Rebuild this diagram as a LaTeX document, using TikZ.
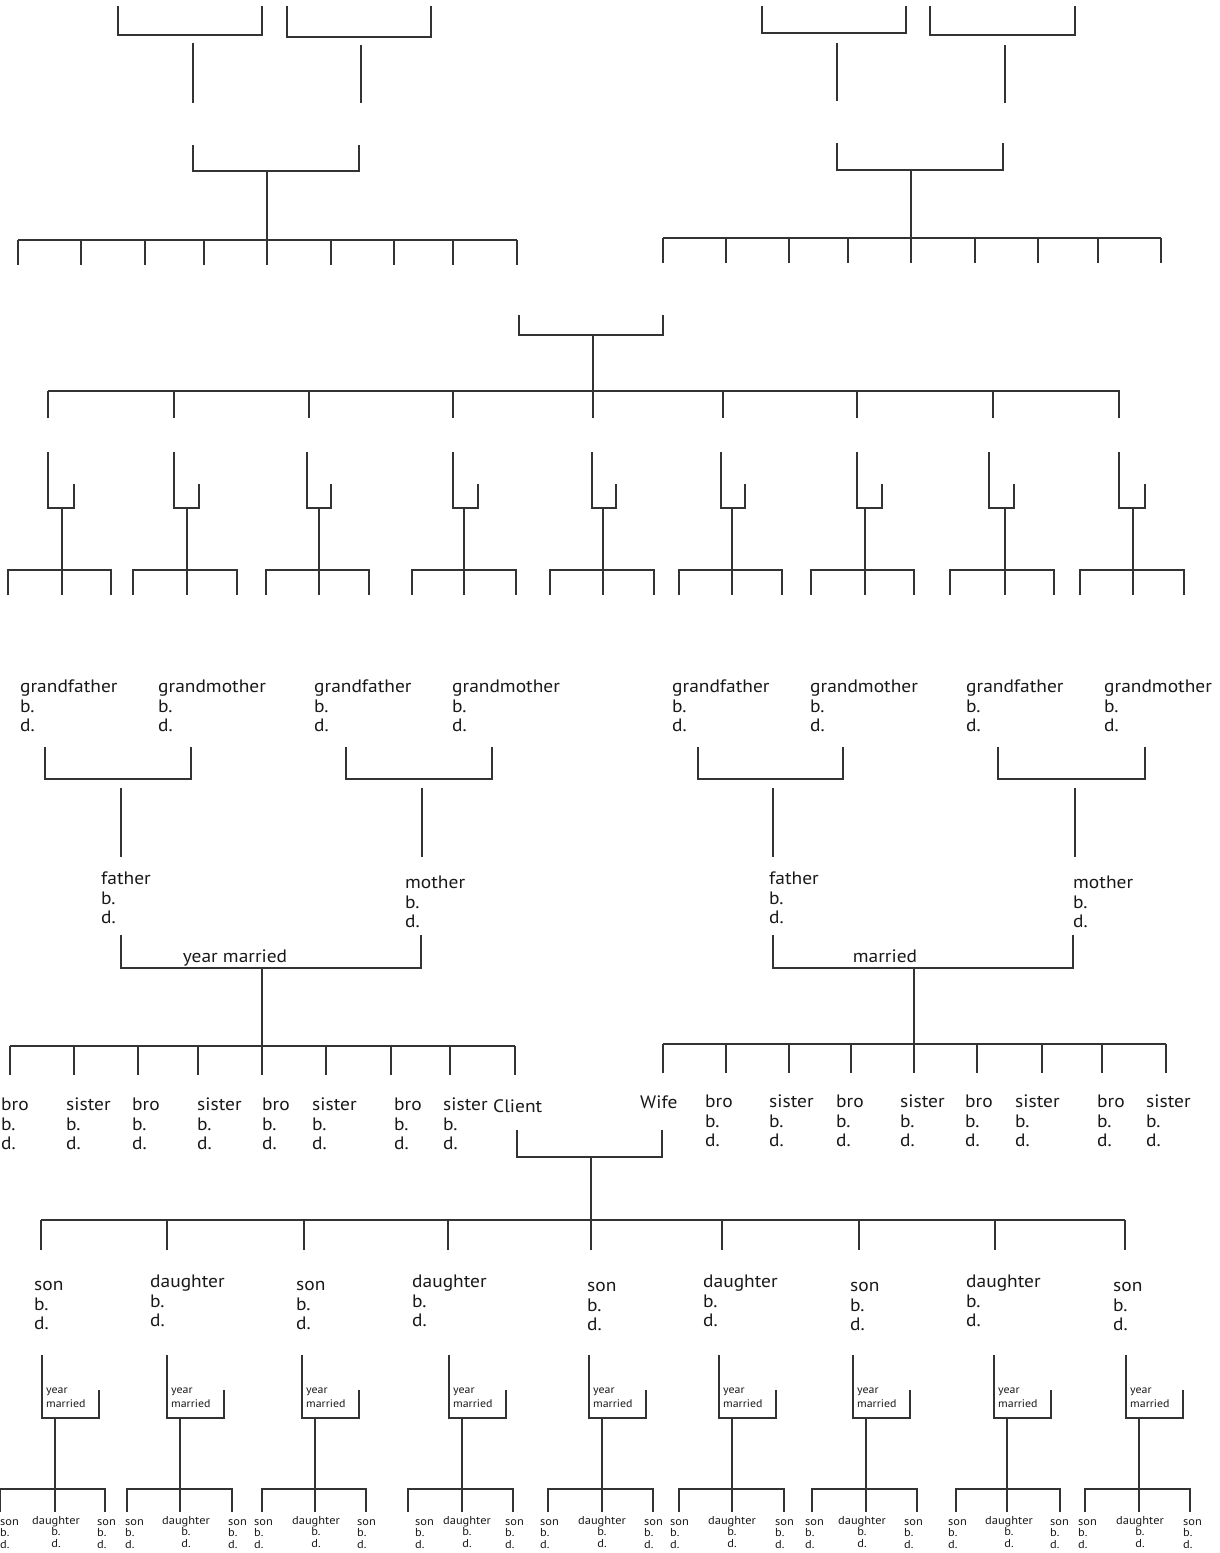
\documentclass[tikz,border=0pt]{standalone}
\usepackage{fontspec}
\setmainfont{PT Sans}[FakeStretch=1.08]
\begin{document}
\begin{tikzpicture}[x=1pt,y=-1pt,
  ln/.style={line width=1.5pt, draw=black!80},
  lab/.style={anchor=north west, inner sep=0pt, align=left, font=\fontsize{18}{19.5}\selectfont, text=black!90},
  one/.style={inner sep=0pt, font=\fontsize{18}{19.5}\selectfont, text=black!90},
  tiny/.style={anchor=north west, inner sep=0pt, align=left, font=\fontsize{11}{14}\selectfont, text=black!90},
  gc/.style={anchor=north west, inner sep=0pt, align=left, font=\fontsize{11.5}{11.5}\selectfont, text=black!90},
  gcc/.style={anchor=north west, inner sep=0pt, align=center, font=\fontsize{11.5}{11.5}\selectfont, text=black!90}]
\useasboundingbox (0,0) rectangle (1220,1553);

% ---------- top left ----------
\draw[ln] (118,6) -- (118,35) -- (262,35) -- (262,6);
\draw[ln] (287,6) -- (287,37) -- (431,37) -- (431,6);
\draw[ln] (193,43) -- (193,103);
\draw[ln] (361,45) -- (361,103);
\draw[ln] (193,145) -- (193,171) -- (359,171) -- (359,145);
\draw[ln] (267,171) -- (267,240);
\draw[ln] (18,240) -- (517,240);
\foreach \x in {18,81,145,204,267,331,394,453,517} \draw[ln] (\x,240) -- (\x,265);

% ---------- top right ----------
\draw[ln] (762,6) -- (762,33) -- (906,33) -- (906,6);
\draw[ln] (930,6) -- (930,35) -- (1075,35) -- (1075,6);
\draw[ln] (837,43) -- (837,101);
\draw[ln] (1005,45) -- (1005,103);
\draw[ln] (837,143) -- (837,170) -- (1003,170) -- (1003,143);
\draw[ln] (911,170) -- (911,238);
\draw[ln] (663,238) -- (1161,238);
\foreach \x in {663,726,789,848,911,975,1038,1098,1161} \draw[ln] (\x,238) -- (\x,263);

% ---------- middle ----------
\draw[ln] (519,315) -- (519,335) -- (663,335) -- (663,315);
\draw[ln] (593,335) -- (593,391);
\draw[ln] (48,391) -- (1120,391);
\foreach \x in {48,174,309,453,593,723,857,993,1119} \draw[ln] (\x,391) -- (\x,418);
\foreach \t/\s/\m/\l/\r in {48/74/62/8/111, 174/199/187/133/237, 307/331/319/266/369,
   453/478/464/412/516, 592/616/603/550/654, 721/745/732/679/782,
   857/882/865/811/914, 989/1014/1005/950/1054, 1119/1145/1133/1080/1184}{
  \draw[ln] (\t,452) -- (\t,508) -- (\s,508) -- (\s,484);
  \draw[ln] (\m,508) -- (\m,570);
  \draw[ln] (\l,595) -- (\l,570) -- (\r,570) -- (\r,595);
  \draw[ln] (\m,570) -- (\m,595);
}

% ---------- grandparents ----------
\foreach \x/\w [count=\i] in {20/grandfather,158/grandmother,314/grandfather,452/grandmother,
   672/grandfather,810/grandmother,966/grandfather,1104/grandmother}
  \node[lab] (gp\i) at (\x,680) {\vphantom{d}\w\\b.\\d.};

\foreach \a/\b/\c in {45/191/121, 346/492/422, 698/843/773, 998/1145/1075}{
  \draw[ln] (\a,747) -- (\a,779) -- (\b,779) -- (\b,747);
  \draw[ln] (\c,788) -- (\c,857);
}

% ---------- parents ----------
\node[lab] (fa1) at (101,872) {\vphantom{d}father\\b.\\d.};
\node[lab] (mo1) at (405,876) {\vphantom{d}mother\\b.\\d.};
\node[lab] (fa2) at (769,872) {\vphantom{d}father\\b.\\d.};
\node[lab] (mo2) at (1073,876) {\vphantom{d}mother\\b.\\d.};

\draw[ln] (121,935) -- (121,968) -- (421,968) -- (421,935);
\draw[ln] (773,935) -- (773,968) -- (1073,968) -- (1073,935);
\node[one, anchor=base] (ym1) at (235,962) {year married};
\node[one, anchor=base] (ym2) at (885,962) {married};
\draw[ln] (262,968) -- (262,1046);
\draw[ln] (914,968) -- (914,1044);
\draw[ln] (10,1046) -- (515,1046);
\foreach \x in {10,74,138,198,262,326,391,450,515} \draw[ln] (\x,1046) -- (\x,1075);
\draw[ln] (663,1044) -- (1166,1044);
\foreach \x in {663,726,789,851,914,977,1042,1102,1166} \draw[ln] (\x,1044) -- (\x,1073);

% ---------- siblings ----------
\foreach \x/\w [count=\i] in {1/bro,66/sister,132/bro,197/sister,262/bro,312/sister,394/bro,443/sister}
  \node[lab] (sl\i) at (\x,1098) {\vphantom{d}\w\\b.\\d.};
\node[lab] (client) at (493,1099) {Client};
\node[lab] (wife) at (640,1096) {Wife};
\foreach \x/\w [count=\i] in {705/bro,769/sister,836/bro,900/sister,965/bro,1015/sister,1097/bro,1146/sister}
  \node[lab] (sr\i) at (\x,1095) {\vphantom{d}\w\\b.\\d.};

\draw[ln] (517,1130) -- (517,1157) -- (662,1157) -- (662,1130);
\draw[ln] (591,1157) -- (591,1220);
\draw[ln] (41,1220) -- (1125,1220);
\foreach \x in {41,167,304,448,591,722,859,995,1125} \draw[ln] (\x,1220) -- (\x,1250);

% ---------- children ----------
\foreach \x/\w/\y [count=\i] in {34/son/1278,150/daughter/1275,296/son/1278,412/daughter/1275,587/son/1279,
   703/daughter/1275,850/son/1279,966/daughter/1275,1113/son/1279}
  \node[lab] (ch\i) at (\x,\y) {\vphantom{d}\w\\b.\\d.};

% ---------- grandchildren ----------
\foreach \t/\l/\r/\sa/\da/\sb [count=\i] in {42/0/105/0/32/97, 167/127/232/125/162/228,
   302/262/366/254/292/357, 449/408/513/415/443/505, 589/548/653/540/578/644,
   719/679/784/670/708/775, 853/812/917/805/838/904, 994/956/1060/948/985/1050,
   1126/1085/1190/1078/1116/1183}{
  \draw[ln] (\t,1355) -- (\t,1418) -- (\t+57,1418) -- (\t+57,1390);
  \node[tiny] (ym\i) at (\t+4,1386) {\vphantom{d}year\\married};
  \draw[ln] (\t+13,1418) -- (\t+13,1489);
  \draw[ln] (\l,1512) -- (\l,1489) -- (\r,1489) -- (\r,1512);
  \draw[ln] (\t+13,1489) -- (\t+13,1512);
  \node[gc] (gs\i) at (\sa,1517) {\vphantom{d}son\\b.\\d.};
  \node[gcc] (gd\i) at (\da,1516) {daughter\\b.\\d.};
  \node[gc] (gt\i) at (\sb,1517) {\vphantom{d}son\\b.\\d.};
}
\end{tikzpicture}
\end{document}
